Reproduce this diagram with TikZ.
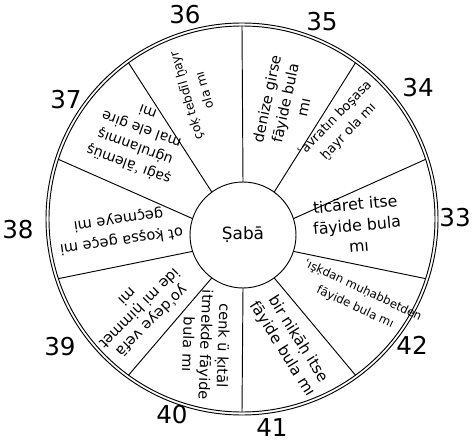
\documentclass[tikz,border=0pt]{standalone}
\usepackage{fontspec}
\setmainfont{DejaVu Sans}
\usetikzlibrary{positioning}

\begin{document}
\begin{tikzpicture}[x=0.3mm, y=0.3mm,
  rimline/.style={line width=0.8pt},
  spoke/.style={line width=0.8pt},
  entry/.style={align=center, inner sep=1pt},
  num/.style={font=\fontsize{21}{21}\selectfont, inner sep=1pt}
]
\useasboundingbox (-242,-225) rectangle (231,219);

% Outer ring (double line)
\node[circle, draw, rimline, minimum size=115.8mm, inner sep=0pt, outer sep=0pt] (rim) at (0,0) {};
\draw[rimline] (rim.center) circle (196);

% Hub
\node[circle, draw, rimline, minimum size=31.8mm, inner sep=0pt, outer sep=0pt, font=\Large] (hub) at (1,-16) {Ṣabā};

% Spokes
\foreach \a in {90,54,...,-234}
  \draw[spoke] (hub.\a) -- (rim.\a);

% Sector texts
\node[entry, rotate=106, font=\fontsize{10.5}{16}\selectfont] (s36) at (-47,126) {çoḳ tebdīl ḫayr\\ola mı};
\node[entry, rotate=78, font=\fontsize{12.5}{16}\selectfont] (s35) at (43,116) {denize girse\\fāyide bula\\mı};
\node[entry, rotate=46, font=\fontsize{11}{16}\selectfont] (s34) at (100,94) {ʿavratın boşasa\\ḫayr ola mı};
\node[entry, rotate=5, font=\fontsize{13.5}{18}\selectfont] (s33) at (115,-6) {ticāret itse\\fāyide bula\\mı};
\node[entry, rotate=-25, font=\fontsize{10}{16}\selectfont] (s42) at (117,-80) {ʿışḳdan muḥabbetden\\fāyide bula mı};
\node[entry, rotate=-58, font=\fontsize{13}{16}\selectfont] (s41) at (48,-125) {bir nikāḥ itse\\fāyide bula mı};
\node[entry, rotate=-92, font=\fontsize{12.5}{15}\selectfont] (s40) at (-36,-126) {cenk ü ḳıtāl\\itmekde fāyide\\bula mı};
\node[entry, rotate=-135, font=\fontsize{12.5}{15}\selectfont] (s39) at (-102,-90) {yoʿdeye vefā\\ide mi ḥimmet\\mi};
\node[entry, rotate=188, font=\fontsize{12.5}{18}\selectfont] (s38) at (-122,-11) {ot ḳoşsa geçe mi\\geçmeye mi};
\node[entry, rotate=160, font=\fontsize{12}{16}\selectfont] (s37) at (-104,80) {ṣaġı ʿālemüş\\uġrulanmış\\mal ele gire\\mi};

% Numbers
\node[num] (n36) at (-57,204) {36};
\node[num] (n35) at (80,197) {35};
\node[num] (n34) at (176,131) {34};
\node[num] (n33) at (213,1) {33};
\node[num] (n42) at (170,-126) {42};
\node[num] (n41) at (30,-209) {41};
\node[num] (n40) at (-70,-196) {40};
\node[num] (n39) at (-182,-128) {39};
\node[num] (n38) at (-224,-11) {38};
\node[num] (n37) at (-176,119) {37};

\end{tikzpicture}
\end{document}
